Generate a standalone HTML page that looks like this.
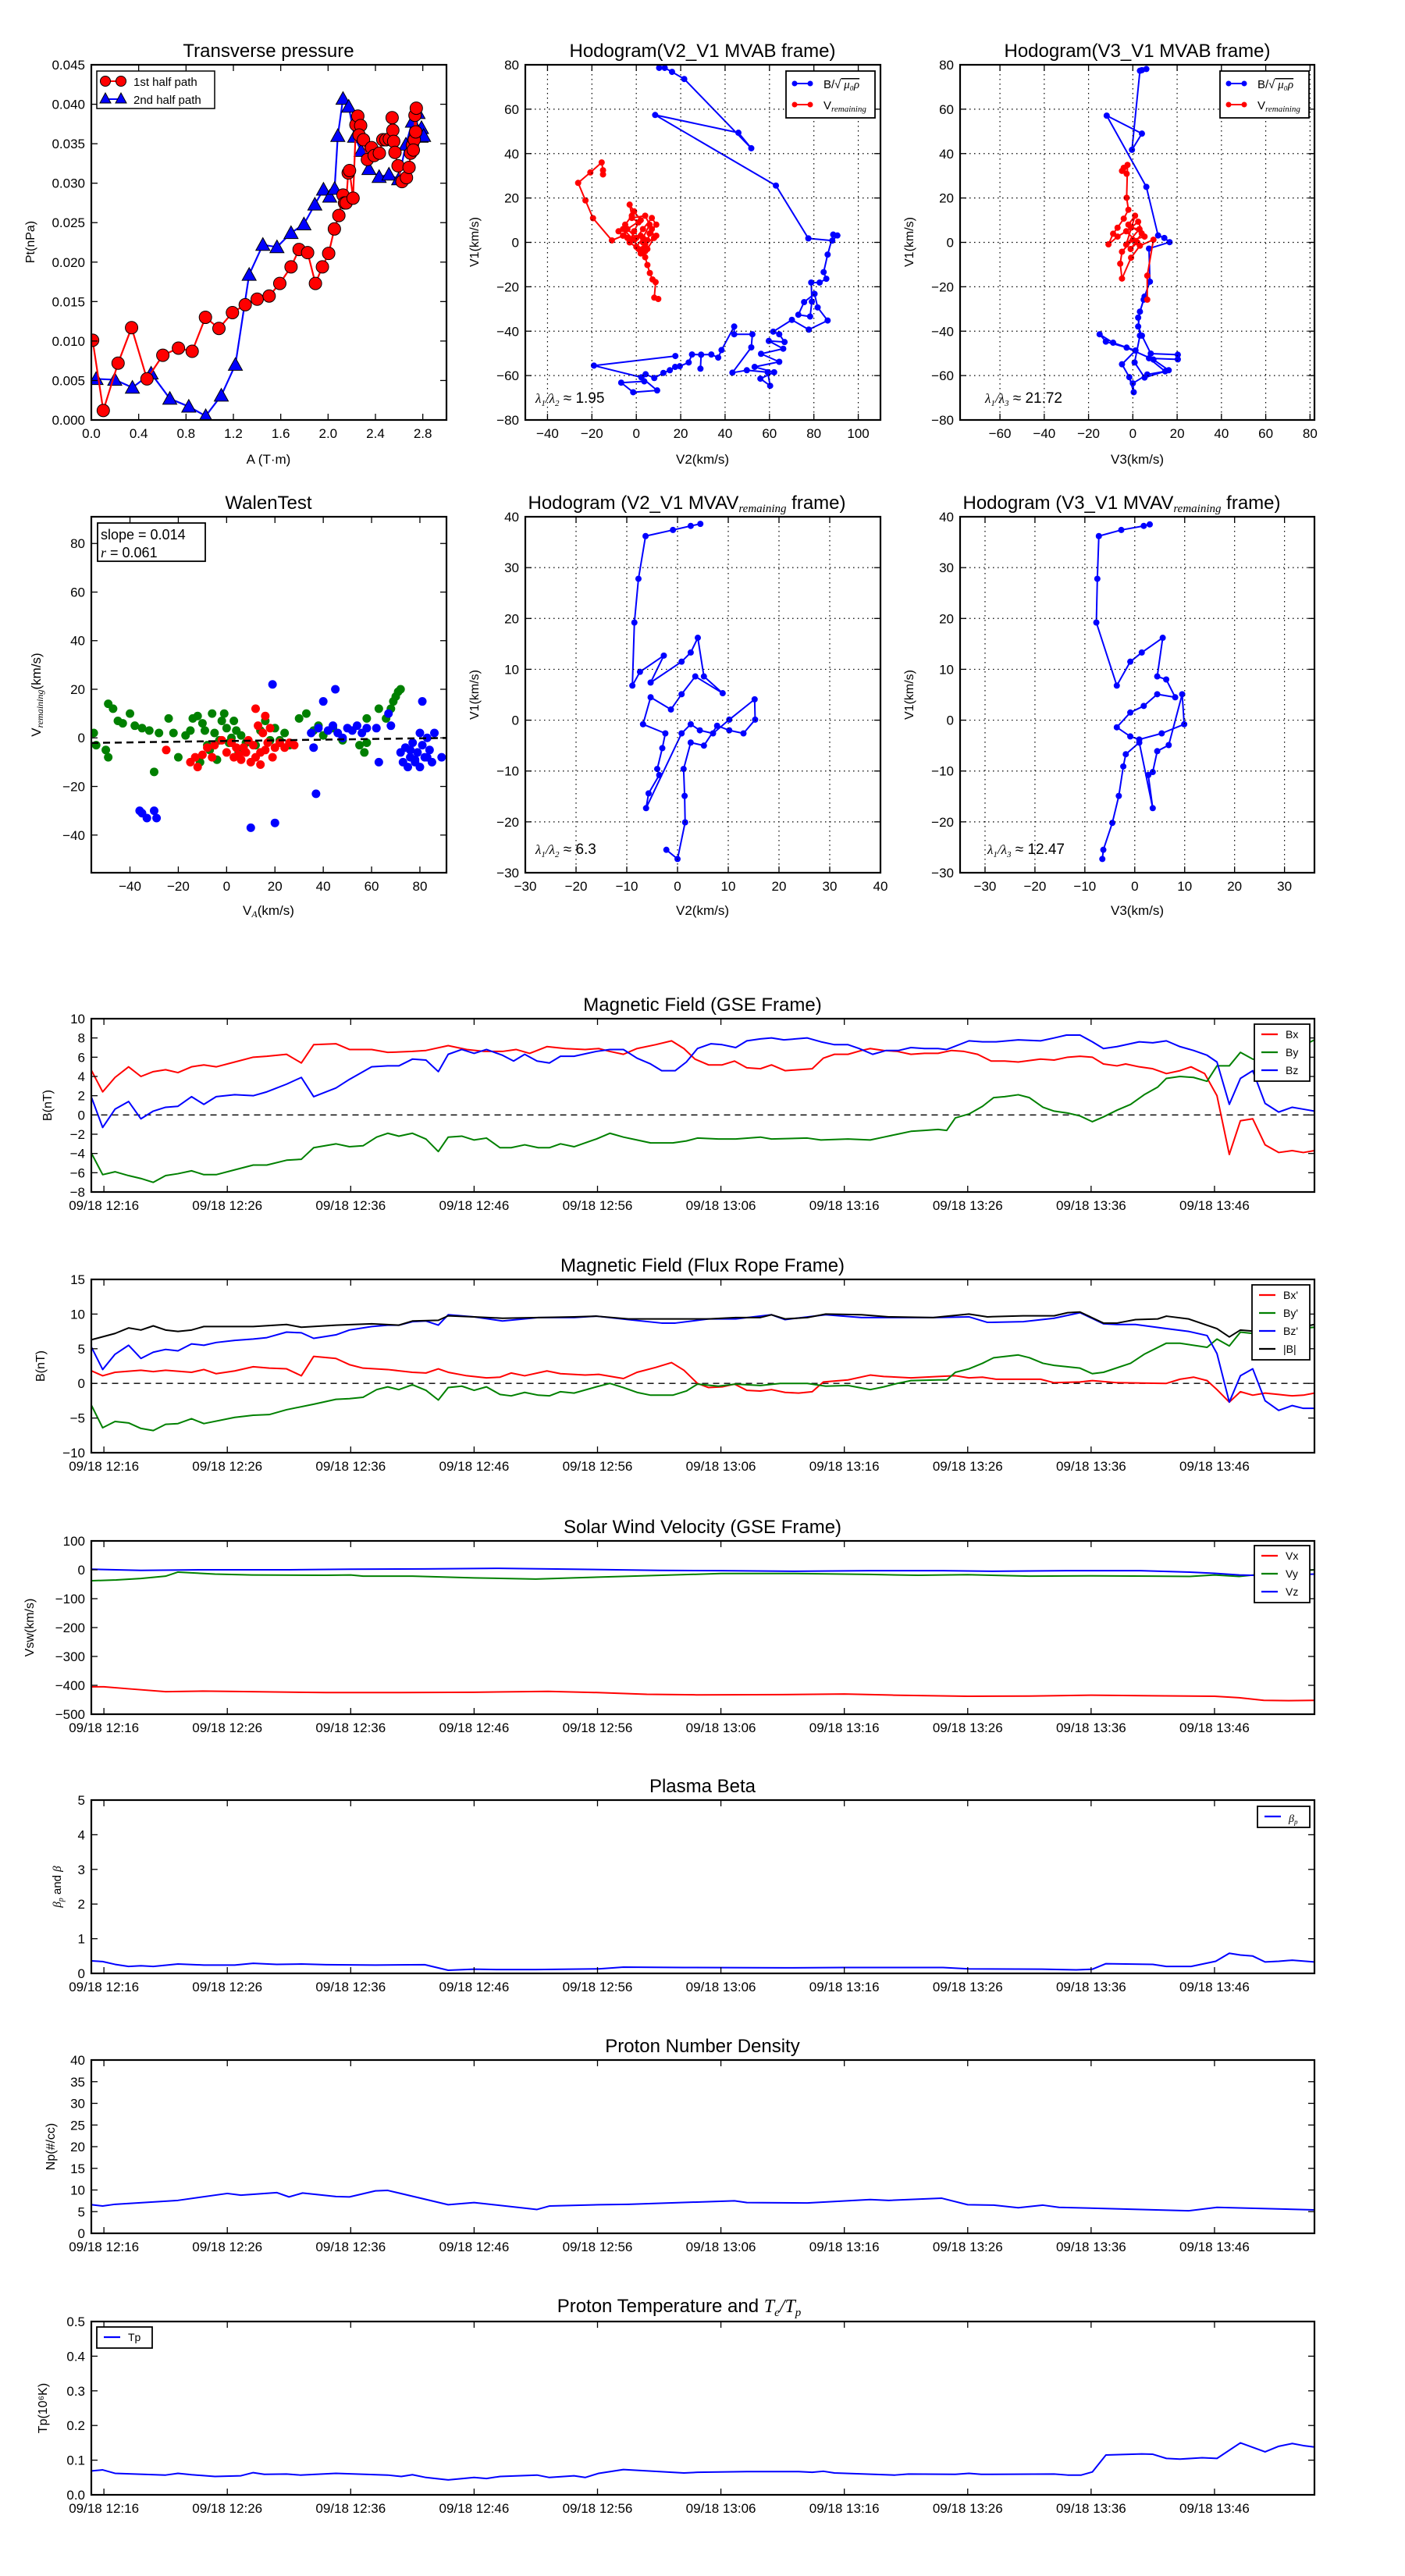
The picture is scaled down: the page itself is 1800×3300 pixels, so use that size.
<!DOCTYPE html>
<html><head><meta charset="utf-8">
<style>
html,body{margin:0;padding:0;background:#fff;}
svg{display:block;font-family:"Liberation Sans",sans-serif;}
</style></head>
<body>
<svg id="fig" width="1800" height="3300" viewBox="0 0 1800 3300" xmlns="http://www.w3.org/2000/svg">
<rect x="0" y="0" width="1800" height="3300" fill="#fff"/>
</svg>
<script>
// ---------- Transverse pressure ----------
const ptRedA=[0.011,0.101,0.226,0.340,0.470,0.604,0.736,0.852,0.964,1.078,1.192,1.300,1.401,1.502,1.592,1.687,1.755,1.827,1.893,1.952,2.005,2.053,2.091,2.126,2.139,2.152,2.170,2.181,2.211,2.235,2.251,2.275,2.262,2.299,2.332,2.367,2.389,2.433,2.462,2.488,2.517,2.541,2.547,2.554,2.565,2.591,2.624,2.662,2.684,2.697,2.712,2.728,2.734,2.745,2.74,2.72];
const ptRedP=[0.0101,0.0012,0.0072,0.0117,0.0052,0.0082,0.0091,0.0087,0.0130,0.0116,0.0136,0.0146,0.0153,0.0157,0.0173,0.0194,0.0216,0.0212,0.0173,0.0194,0.0211,0.0242,0.0259,0.0285,0.0275,0.0275,0.0313,0.0316,0.0281,0.0374,0.0385,0.0373,0.0361,0.0355,0.0330,0.0345,0.0335,0.0338,0.0355,0.0355,0.0356,0.0383,0.0367,0.0353,0.0339,0.0322,0.0302,0.0307,0.0320,0.0338,0.0348,0.0355,0.0386,0.0395,0.0365,0.0342];
const ptBlueA=[0.040,0.198,0.347,0.505,0.663,0.823,0.966,1.098,1.217,1.333,1.449,1.568,1.687,1.796,1.888,1.961,2.014,2.055,2.082,2.126,2.174,2.224,2.279,2.345,2.431,2.514,2.596,2.657,2.712,2.760,2.745,2.789,2.785,2.807];
const ptBlueP=[0.0052,0.0051,0.0041,0.0059,0.0027,0.0017,0.0005,0.0031,0.0070,0.0184,0.0222,0.0219,0.0237,0.0248,0.0273,0.0292,0.0283,0.0293,0.0360,0.0407,0.0397,0.0359,0.0341,0.0318,0.0308,0.0311,0.0305,0.0349,0.0378,0.0389,0.0369,0.0370,0.0359,0.0360];
const ptXTicks=[0,0.4,0.8,1.2,1.6,2.0,2.4,2.8];
const ptYTicks=[0,0.005,0.01,0.015,0.02,0.025,0.03,0.035,0.04,0.045];
// ---------- Hodogram V2_V1 MVAB ----------
const h1BlueX=[10.3,12.8,16.1,21.6,51.8,46.0,8.5,62.9,77.5,88.3,90.6,88.7,86.2,84.4,85.6,82.6,78.8,79.1,78.3,73.0,75.6,80.3,81.7,86.2,77.7,70.1,61.7,64.4,66.8,59.7,66.2,56.2,64.4,53.3,62.1,55.9,60.3,59.2,49.8,43.3,51.8,52.3,44.1,44.1,38.4,36.9,33.8,29.2,28.9,29.2,25.1,23.6,19.6,17.5,15.1,12.2,8.1,4.2,2.3,9.4,-1.4,-6.8,3.6,2.3,-19.1,17.6];
const h1BlueY=[78.6,78.6,76.8,73.6,42.4,49.4,57.4,25.6,1.8,0.8,3.1,3.5,-5.5,-13.4,-16.4,-18.1,-18.1,-26.7,-33.4,-32.6,-26.9,-23.2,-29.3,-35.2,-39.3,-34.9,-40.2,-41.4,-44.9,-44.4,-47.9,-50.2,-53.8,-56.1,-58.5,-61.4,-64.6,-58.5,-57.6,-58.7,-47.3,-41.4,-41.4,-37.9,-48.5,-51.9,-50.5,-50.6,-56.9,-50.6,-50.5,-54.1,-55.8,-56.1,-57.6,-58.8,-61.1,-59.4,-60.8,-66.7,-67.5,-63.2,-62.6,-60.8,-55.5,-51.2];
const h1RedX=[-15,-15,-15.6,-20.7,-26.2,-22.9,-19.5,-11,-6,-8,-5,-2,-3,-1,2,-4,0,3,7,9,6,9,4,1,-3,-1,1,-2,4,6,3,0,2,5,7,8,5,3,2,-4,-6,-1,2,4,3,4,5,6.1,7.3,8.7,8.1,9.9];
const h1RedY=[30.6,32.5,36,31.5,26.8,18.9,10.9,0.9,3,5,8,12,17,14,10,6,2,6,11,8,4,3,-1,-3,0,5,9,11,12,8,2,-2,-4,1,6,2,-3,0,3,2,6,1,-5,-4,-3,-6.7,-10.2,-13.8,-16.7,-17.9,-24.9,-25.5];
// ---------- Hodogram V3_V1 MVAB ----------
const h2BlueX=[4.1,6.1,3.2,-0.4,4.1,-11.8,6.1,11.4,14.2,16.6,7.3,7.7,5.3,3.2,2.4,4.1,8.1,20.3,20.3,7.3,14.6,6.5,0,0.4,-1.6,-4.9,1.2,-8.9,-15,-12.2,-2.8,9.3,16.2,5.3,0.8,3.2,2.4,4.9];
const h2BlueY=[77.6,78.1,77.3,41.7,49.0,57.1,25.0,3.1,2.0,0.1,-2.8,-17.7,-24.4,-31.2,-37.9,-42.0,-50.1,-50.6,-52.7,-52.2,-58.1,-59.5,-63.5,-67.5,-60.7,-54.9,-48.7,-45.2,-41.4,-44.7,-47.4,-52.8,-57.6,-60.9,-54.1,-42,-33.9,-25.8];
const h2RedX=[-4.1,-2.8,-4.9,-2.4,-2.8,-2,-4.1,-6.9,-8.9,-11,-6.9,-3,2,-1,4,-2,1,-3,3,-0.8,2.4,5.3,0,-4.9,-5.7,-4.9,-0.8,3.2,9.3,6.5,6.5];
const h2RedY=[33.6,30.9,32.2,34.9,20.1,14.7,10.7,6.6,3.9,-0.9,2.6,5,0,-3,4,8,12,-1,6,6.6,9.3,2.6,1.2,-4.2,-9.6,-16.3,-6.9,-1.5,1.2,-15,-25.8];
// ---------- Walen test ----------
const wGreenX=[-55,-54,-50,-49,-49,-47,-45,-43,-40,-38,-35,-32,-30,-28,-24,-22,-20,-17,-15,-14,-12,-10,-8,-6,-5,-4,-3,-2,-1,0,1,2,3,4,5,6,8,14,16,18,20,22,24,26,30,33,36,38,40,48,55,57,58,63,66,68,69,70,71,72,58,44,12,-7,-11,-9];
const wGreenY=[2,-3,-5,-8,14,12,7,6,10,5,4,3,-14,2,8,2,-8,1,3,8,9,6,-3,10,2,-9,-1,7,10,4,-2,0,7,3,-6,1,-2,3,7,-1,4,-1,2,-3,8,10,3,5,1,-1,-3,-6,8,12,8,12,15,17,19,20,-2,4,-3,-5,-10,3];
const wRedX=[-25,-15,-13,-12,-10,-8,-5,-2,0,2,3,4,6,7,8,9,10,11,12,12,13,14,15,16,16,17,18,20,22,24,26,28,5,-6,14,19];
const wRedY=[-5,-10,-8,-12,-7,-4,-3,-1,-6,-2,-8,-4,-9,-4,-6,-1,-10,-3,-8,12,5,-11,2,-5,9,-2,4,-4,-2,-4,-2,-3,-7,-8,-6,-8];
const wBlueX=[-36,-35,-33,-30,-29,10,20,19,37,36,35,38,40,42,44,45,46,48,50,52,54,56,58,62,63,67,68,72,73,74,75,76,77,78,79,80,81,82,83,84,85,86,80,81,78,76,83,89];
const wBlueY=[-30,-31,-33,-30,-33,-37,-35,22,-23,-4,2,4,15,3,5,20,2,0,4,3,5,2,4,4,-10,10,5,-6,-10,-4,-12,-8,-2,-9,-6,-12,-3,-8,0,-5,-10,2,2,15,-10,-5,-8,-8];
const walenSlope=[0.014];
const walenIntercept=[-1.3];
const walenTicks=[-40,-20,0,20,40,60,80];
// ---------- Hodogram MVAV remaining ----------
const h3X=[4.5,2.6,-0.9,-6.3,-7.7,-8.5,-8.9,-7.4,-2.7,-5.3,0.8,2.6,4,5.2,8.9,3.5,0.8,-1.3,-5.3,-6.8,-2.4,-3,-4,-3.6,-5.7,-6.2,0.8,2.6,4.4,7,10.2,15.2,15.3,13,10.2,7.8,5.2,2.6,1.2,1.4,1.5,0,-2.2];
const h3Y=[38.6,38.2,37.4,36.2,27.8,19.2,6.8,9.5,12.7,7.4,11.5,13.3,16.2,8.6,5.3,8.6,5.1,2.1,4.5,-0.8,-2.6,-5.5,-9.6,-10.8,-14.4,-17.3,-2.6,-0.8,-2,-2.6,0.1,4.1,0.1,-2.6,-2,-1.1,-5,-4.4,-9.6,-14.9,-20.1,-27.3,-25.5];
const h4X=[3,1.8,-2.7,-7.2,-7.5,-7.7,-3.6,-0.9,1.4,5.6,4.5,6.3,8.1,4.5,1.8,-0.9,-3.6,-0.9,0.9,5.4,9.9,9.5,6.8,4.5,3.6,2.7,3.6,0.9,-1.8,-2.3,-3.2,-4.5,-6.3,-6.5];
const h4Y=[38.5,38.2,37.4,36.2,27.8,19.2,6.8,11.5,13.3,16.2,8.6,8,4.5,5.1,2.8,1.5,-1.4,-3.2,-3.8,-2.6,-0.8,5.1,-4.9,-6.1,-10.2,-10.8,-17.3,-4.4,-6.7,-9.1,-14.9,-20.2,-25.5,-27.3];
const hodoTicks1=[-80,-60,-40,-20,0,20,40,60,80];
const hodoXTicks1=[-40,-20,0,20,40,60,80,100];
const hodoXTicks2=[-60,-40,-20,0,20,40,60,80];
const hodoTicks2=[-30,-20,-10,0,10,20,30,40];
// ---------- Time series (minutes since 09/18 12:16) ----------
const timeTicks=[0,10,20,30,40,50,60,70,80,90];
const timeLabels=["09/18 12:16","09/18 12:26","09/18 12:36","09/18 12:46","09/18 12:56","09/18 13:06","09/18 13:16","09/18 13:26","09/18 13:36","09/18 13:46"];
const bxT=[-1.0,-0.1,0.9,2.0,3.0,4.0,5.0,6.0,7.1,8.1,9.1,10.6,12.1,13.2,14.8,16.0,17.0,18.8,19.9,21.7,23.0,25.0,26.1,27.9,29.4,30.8,32.3,33.4,34.5,35.9,37.4,39.0,40.1,41.0,42.1,43.2,44.7,46.0,47.0,47.9,49.0,50.1,51.1,52.1,53.2,54.1,55.2,56.3,57.4,58.3,59.2,60.3,61.4,62.1,63.2,64.3,65.4,66.5,67.6,68.7,69.7,70.8,71.9,73.0,74.1,75.9,77.0,78.1,79.1,80.1,81.0,82.1,82.8,83.9,85.0,86.1,87.2,88.1,89.2,90.2,91.2,92.1,93.1,94.1,95.2,96.3,97.2,98.1];
const bxV=[4.6,2.4,3.9,5.0,4.0,4.5,4.7,4.4,5.0,5.2,5.0,5.5,6.0,6.1,6.3,5.4,7.3,7.4,6.8,6.8,6.5,6.6,6.7,7.2,6.8,6.6,6.6,6.8,6.4,7.1,6.9,6.8,6.9,6.6,6.3,6.9,7.3,7.7,6.9,5.8,5.2,5.2,5.6,4.9,4.8,5.2,4.6,4.7,4.8,5.9,6.3,6.3,6.7,6.9,6.7,6.6,6.3,6.4,6.4,6.7,6.6,6.3,5.6,5.6,5.5,5.8,5.7,6.0,6.1,6.0,5.3,5.1,5.3,5.0,4.8,4.3,4.6,5.0,4.3,2.0,-4.1,-0.6,-0.4,-3.1,-3.9,-3.7,-3.9,-3.7];
const byT=[-1.0,-0.1,0.9,2.0,3.0,4.0,5.0,6.0,7.1,8.1,9.1,10.6,12.1,13.2,14.8,16.0,17.0,18.8,19.9,21.0,22.1,23.0,23.9,25.0,26.1,27.1,27.9,29.0,30.0,31.0,32.1,33.0,34.1,35.2,36.1,37.0,38.1,39.9,41.0,42.1,43.2,44.3,46.1,47.2,48.1,49.8,51.2,53.2,54.1,57.0,58.1,60.3,62.1,63.2,64.3,65.4,66.5,67.6,68.3,69.0,70.1,71.2,72.1,73.0,74.1,75.0,76.1,77.0,78.1,79.1,80.1,81.0,82.1,83.2,84.3,85.4,86.1,87.2,88.3,89.4,90.2,91.2,92.1,93.1,94.1,95.6,98.1];
const byV=[-4.0,-6.2,-5.9,-6.3,-6.6,-7.0,-6.3,-6.1,-5.8,-6.2,-6.2,-5.7,-5.2,-5.2,-4.7,-4.6,-3.4,-3.0,-3.3,-3.2,-2.3,-1.9,-2.2,-1.9,-2.5,-3.8,-2.3,-2.2,-2.6,-2.4,-3.4,-3.4,-3.1,-3.4,-3.4,-3.0,-3.3,-2.5,-1.9,-2.3,-2.6,-2.9,-2.9,-2.7,-2.4,-2.5,-2.5,-2.3,-2.5,-2.4,-2.6,-2.5,-2.6,-2.3,-2.0,-1.7,-1.6,-1.5,-1.6,-0.3,0.1,0.9,1.8,1.9,2.1,1.8,0.8,0.4,0.2,-0.1,-0.7,-0.2,0.5,1.1,2.1,2.9,3.8,4.0,3.9,3.5,5.1,5.1,6.5,5.8,5.6,6.2,7.8];
const bzT=[-1.0,-0.1,0.9,2.0,3.0,4.0,5.0,6.0,7.1,8.1,9.1,10.6,12.1,13.2,14.8,16.0,17.0,18.8,19.9,21.7,23.0,23.9,25.0,26.1,27.1,27.9,29.0,30.0,31.0,32.3,33.2,34.1,35.1,36.1,37.0,38.1,39.9,41.0,42.1,43.2,44.3,45.2,46.3,47.2,48.1,49.2,50.1,51.2,52.1,53.2,54.1,55.1,57.0,58.1,59.2,60.3,61.2,62.3,63.4,64.4,65.4,66.5,67.6,68.3,70.1,71.2,72.3,74.1,75.9,77.0,78.0,79.1,80.1,81.0,82.1,83.9,85.0,86.1,87.2,88.3,89.4,90.2,91.2,92.1,93.1,94.1,95.2,96.3,97.2,98.1];
const bzV=[1.8,-1.3,0.6,1.4,-0.4,0.4,0.8,0.9,1.9,1.1,1.9,2.1,2.0,2.4,3.2,3.9,1.9,2.8,3.7,5.0,5.1,5.1,5.8,5.7,4.5,6.3,6.8,6.4,6.8,6.2,5.6,6.3,5.6,5.4,6.1,6.1,6.6,6.8,6.8,5.9,5.3,4.6,4.6,5.5,6.9,7.4,7.3,7.0,7.7,7.9,8.0,7.8,8.0,7.6,7.3,7.3,6.9,6.3,6.7,6.7,7.0,6.9,6.9,6.8,7.7,7.6,7.6,7.8,7.7,8.0,8.3,8.3,7.6,6.9,7.1,7.6,7.5,7.7,7.1,6.7,6.2,5.5,1.1,3.8,4.6,1.2,0.3,0.8,0.6,0.4];
const bmT=[-1.0,0.9,2.0,3.0,4.0,5.0,6.0,7.1,8.1,10.6,12.1,14.8,16.0,18.8,21.7,23.9,25.0,27.1,27.9,30.0,32.3,35.2,38.1,39.9,42.5,46.1,49.0,51.2,53.2,54.1,55.2,57.0,58.5,61.4,63.6,67.2,70.1,71.6,74.5,77.0,78.1,79.1,81.0,82.1,83.6,85.4,86.1,87.9,90.2,91.2,92.1,93.4,95.6,98.1];
const bmV=[6.3,7.2,8.0,7.7,8.3,7.7,7.5,7.7,8.2,8.2,8.2,8.5,8.1,8.4,8.6,8.4,9.0,9.1,9.75,9.6,9.4,9.5,9.6,9.7,9.3,9.3,9.3,9.5,9.5,9.9,9.3,9.5,10.0,9.9,9.6,9.5,10.0,9.6,9.75,9.75,10.2,10.3,8.7,8.7,9.2,9.3,9.7,9.3,7.9,6.7,7.7,7.5,7.6,8.5];
const fzT=[-1.0,-0.1,0.9,2.0,3.0,4.0,5.0,6.0,7.1,8.1,9.1,10.6,12.1,13.2,14.8,16.0,17.0,18.8,19.9,21.7,23.0,23.9,25.0,26.1,27.1,27.9,30.0,32.3,35.2,38.1,39.9,42.5,45.2,46.3,49.0,51.2,54.1,55.2,58.5,61.4,63.6,67.2,70.1,71.6,74.5,77.0,79.1,81.0,82.1,83.6,86.1,87.9,89.4,90.2,91.2,92.1,93.1,94.1,95.2,96.3,97.2,98.1];
const fzV=[5.2,2.0,4.2,5.5,3.6,4.5,4.9,4.7,5.7,5.5,5.9,6.2,6.4,6.6,7.4,7.3,6.5,7.0,7.7,8.2,8.4,8.4,8.9,9.0,8.4,9.9,9.6,9.0,9.5,9.5,9.7,9.2,8.7,8.7,9.3,9.3,9.9,9.2,9.9,9.5,9.5,9.5,9.6,8.8,8.9,9.4,10.2,8.6,8.5,8.5,7.9,7.5,6.9,4.3,-2.7,1.1,2.1,-2.5,-3.9,-3.2,-3.6,-3.6];
const fxT=[-1.0,-0.1,0.9,3.0,4.0,5.0,7.1,8.1,9.1,10.6,12.1,13.4,14.8,16.0,17.0,18.8,19.9,21.0,23.0,25.0,26.1,27.1,27.9,29.4,31.0,32.1,33.0,34.1,35.9,37.0,39.0,40.1,42.1,43.2,44.7,46.0,47.0,48.1,49.0,50.1,51.1,52.1,53.2,54.1,55.2,56.3,57.4,58.3,60.3,62.1,63.2,65.4,67.6,69.0,70.1,71.2,72.3,75.9,77.0,79.1,80.1,82.1,86.1,87.2,88.3,89.4,90.2,91.2,92.1,93.1,94.1,95.2,96.3,97.2,98.1];
const fxV=[1.8,1.1,1.6,1.9,1.7,1.9,1.6,2.0,1.4,1.8,2.4,2.2,2.1,1.1,3.9,3.6,2.7,2.2,2.0,1.6,1.5,2.1,1.6,1.1,0.8,0.9,1.5,1.1,1.8,1.4,1.2,1.3,0.7,1.6,2.3,3.0,1.9,0,-0.6,-0.5,-0.1,-1.0,-1.1,-0.9,-1.3,-1.4,-1.2,0.2,0.5,1.2,1.0,0.8,1.0,1.1,0.8,0.9,0.6,0.6,0.1,0.2,0.4,0.1,0,0.6,0.9,0.4,-0.9,-2.7,-1.2,-1.7,-1.4,-1.6,-1.8,-1.7,-1.4];
const fyT=[-1.0,-0.1,0.9,2.0,3.0,4.0,5.0,6.0,7.1,8.1,10.6,12.1,13.4,14.8,17.0,18.8,19.9,21.0,22.1,23.0,23.9,25.0,26.1,27.1,27.9,29.0,30.0,31.0,32.1,33.0,34.1,35.2,36.1,37.0,38.1,39.9,41.0,42.1,43.2,44.3,46.1,47.2,48.1,49.8,51.2,53.2,54.8,57.0,58.5,60.3,62.1,63.2,64.3,65.4,67.6,68.3,69.0,70.1,71.2,72.1,74.1,75.0,76.1,77.0,79.1,80.1,81.0,83.2,84.3,86.1,87.2,89.4,90.2,91.2,92.1,93.1,98.1];
const fyV=[-3.2,-6.4,-5.5,-5.7,-6.5,-6.8,-5.9,-5.8,-5.1,-5.8,-4.9,-4.6,-4.5,-3.8,-3.0,-2.3,-2.2,-2.0,-0.9,-0.5,-0.9,-0.2,-1.0,-2.4,-0.6,-0.4,-1.0,-0.5,-1.6,-1.8,-1.3,-1.7,-1.8,-1.2,-1.4,-0.5,0,-0.6,-1.3,-1.7,-1.7,-1.1,-0.1,-0.4,-0.1,-0.3,0,0,-0.4,-0.3,-0.9,-0.5,0,0.4,0.5,0.5,1.6,2.1,2.9,3.7,4.1,3.7,2.9,2.6,2.2,1.4,1.6,2.9,4.2,5.8,5.8,5.2,6.4,5.4,7.4,7.2,8.1];
const vxT=[-1,0,2,5,8,12,18,24,30,36,40,44,48,55,60,64,70,75,80,85,90,92,94,96,98.1];
const vxV=[-405,-405,-412,-422,-420,-422,-425,-425,-424,-421,-425,-431,-433,-432,-430,-434,-438,-437,-434,-436,-438,-443,-452,-453,-452];
const vyT=[-1,1,3,5,6,9,12,18,20,21,25,30,35,38,42,46,50,56,62,66,70,75,80,85,88,90,92,95,98.1];
const vyV=[-38,-35,-30,-22,-8,-15,-18,-19,-18,-22,-22,-28,-32,-28,-23,-18,-13,-13,-16,-19,-17,-22,-21,-22,-23,-18,-23,-10,0];
const vzT=[-1,3,8,15,20,26,32,38,45,50,56,62,68,72,78,84,88,90,92,94,96,98.1];
const vzV=[2,-2,0,0,2,3,5,2,-2,-3,-5,-3,-3,-5,-3,-3,-8,-12,-18,-20,-18,-15];
const betaT=[-1.0,-0.1,0.9,2.0,3.0,4.0,6.0,8.1,10.6,12.1,14.0,16.0,18.0,22.0,26.0,27.9,30.0,32.0,35.0,40.1,42.1,47.0,55.1,60.0,68.0,70.1,76.0,78.8,80.1,81.2,85.0,86.1,88.1,90.1,91.2,92.1,93.1,94.1,95.2,96.3,98.1];
const betaV=[0.36,0.34,0.26,0.2,0.22,0.2,0.27,0.24,0.24,0.29,0.26,0.27,0.25,0.24,0.25,0.09,0.12,0.11,0.11,0.13,0.18,0.17,0.16,0.17,0.17,0.13,0.12,0.1,0.12,0.28,0.26,0.2,0.2,0.35,0.58,0.53,0.5,0.33,0.35,0.38,0.33];
const npT=[-1.0,-0.1,0.9,6.0,10.0,11.1,14.0,15.0,16.1,18.8,19.9,22.0,23.0,27.9,30.0,35.1,36.1,40.1,42.5,51.1,52.1,57.0,62.1,63.6,67.9,70.0,72.1,74.1,76.1,77.4,87.9,90.2,98.1];
const npV=[6.6,6.3,6.7,7.6,9.2,8.8,9.4,8.4,9.3,8.5,8.4,9.8,9.9,6.6,7.1,5.5,6.3,6.6,6.7,7.5,7.1,7.0,7.8,7.6,8.1,6.6,6.5,5.9,6.5,6.0,5.2,6.0,5.4];
const tpT=[-1.0,-0.1,0.9,5.0,6.0,7.1,9.0,11.1,12.1,13.0,14.8,15.9,18.8,23.0,24.1,25.0,26.1,27.9,30.0,31.0,32.1,35.1,36.1,38.1,39.0,40.1,42.1,47.0,48.1,52.1,56.3,57.4,58.3,59.2,64.1,65.2,69.0,70.1,71.1,77.0,78.1,79.2,80.1,81.2,84.1,85.0,86.1,87.2,89.0,90.2,92.1,94.1,95.2,96.3,97.2,98.1];
const tpV=[0.069,0.072,0.062,0.057,0.062,0.058,0.053,0.055,0.064,0.059,0.06,0.057,0.062,0.057,0.053,0.058,0.05,0.043,0.05,0.047,0.053,0.057,0.05,0.055,0.05,0.062,0.073,0.063,0.065,0.067,0.067,0.065,0.068,0.063,0.057,0.06,0.059,0.062,0.059,0.06,0.057,0.057,0.066,0.115,0.118,0.117,0.105,0.103,0.107,0.105,0.15,0.124,0.14,0.148,0.142,0.138];

const NS='http://www.w3.org/2000/svg';
const svg=document.getElementById('fig');
function mk(tag,attrs,parent){const e=document.createElementNS(NS,tag);for(const k in attrs)e.setAttribute(k,attrs[k]);(parent||svg).appendChild(e);return e;}
function txt(str,x,y,attrs,parent){const t=mk('text',Object.assign({x:x,y:y,'font-size':17,fill:'#000'},attrs||{}),parent);t.textContent=str;return t;}
function makeAxes(box,xd,yd){return {box:box,sx:v=>box.x+(v-xd[0])/(xd[1]-xd[0])*box.w,sy:v=>box.y+box.h-(v-yd[0])/(yd[1]-yd[0])*box.h};}
let clipN=0;
function panel(ax,name){
  const g=mk('g',{});
  
  
  const id='clip'+(clipN++);
  const cp=mk('clipPath',{id:id},g);
  mk('rect',{x:ax.box.x,y:ax.box.y,width:ax.box.w,height:ax.box.h},cp);
  const dg=mk('g',{'clip-path':'url(#'+id+')'},g);
  
  
  return {g:g,dg:dg};
}
function xTicks(ax,g,vals,labels,grid){
  const b=ax.box;
  vals.forEach((v,i)=>{const x=ax.sx(v);
    if(grid&&x>b.x+1&&x<b.x+b.w-1){const gl=mk('line',{x1:x,x2:x,y1:b.y,y2:b.y+b.h,stroke:'#000','stroke-width':1.2,'stroke-dasharray':'1.5,4.5'},g);
      }
    mk('line',{x1:x,x2:x,y1:b.y+b.h,y2:b.y+b.h-8,stroke:'#000','stroke-width':1.3},g);
    mk('line',{x1:x,x2:x,y1:b.y,y2:b.y+8,stroke:'#000','stroke-width':1.3},g);
    const t=txt(labels[i],x,b.y+b.h+23,{'text-anchor':'middle'},g);
    
  });
}
function yTicks(ax,g,vals,labels,grid){
  const b=ax.box;
  vals.forEach((v,i)=>{const y=ax.sy(v);
    if(grid&&y>b.y+1&&y<b.y+b.h-1){const gl=mk('line',{y1:y,y2:y,x1:b.x,x2:b.x+b.w,stroke:'#000','stroke-width':1.2,'stroke-dasharray':'1.5,4.5'},g);
      }
    mk('line',{y1:y,y2:y,x1:b.x,x2:b.x+8,stroke:'#000','stroke-width':1.3},g);
    mk('line',{y1:y,y2:y,x1:b.x+b.w,x2:b.x+b.w-8,stroke:'#000','stroke-width':1.3},g);
    const t=txt(labels[i],b.x-8,y+6,{'text-anchor':'end'},g);
    
  });
}
function frame(ax,g){const b=ax.box;const r=mk('rect',{x:b.x,y:b.y,width:b.w,height:b.h,fill:'none',stroke:'#000','stroke-width':2.2},g);
  }
function title(str,x,y,g){const t=txt(str,x,y,{'text-anchor':'middle','font-size':24},g);return t;}
function ylabel(str,x,y,g,size){const t=txt(str,x,y,{'text-anchor':'middle','font-size':size||17,transform:'rotate(-90 '+x+' '+y+')'},g);return t;}
function xlabel(str,x,y,g){const t=txt(str,x,y,{'text-anchor':'middle','font-size':17},g);return t;}
function line(ax,g,xs,ys,color,name,w){
  const n=Math.min(xs.length,ys.length);let d='';
  for(let i=0;i<n;i++)d+=(i?'L':'M')+ax.sx(xs[i]).toFixed(2)+','+ax.sy(ys[i]).toFixed(2);
  const p=mk('path',{d:d,fill:'none',stroke:color,'stroke-width':w||2,'stroke-linejoin':'round'},g);
  
  
  return p;
}
function dots(ax,g,xs,ys,color,r,name,strokeC){
  const n=Math.min(xs.length,ys.length);
  for(let i=0;i<n;i++){const c=mk('circle',{cx:ax.sx(xs[i]),cy:ax.sy(ys[i]),r:r,fill:color,stroke:strokeC||'none','stroke-width':strokeC?1:0},g);
    }
}
function tris(ax,g,xs,ys,color,s,name){
  const n=Math.min(xs.length,ys.length);
  for(let i=0;i<n;i++){const x=ax.sx(xs[i]),y=ax.sy(ys[i]);
    const p=mk('polygon',{points:(x)+','+(y-s)+' '+(x-s)+','+(y+s*0.8)+' '+(x+s)+','+(y+s*0.8),fill:color,stroke:'#000','stroke-width':1},g);
    }
}
function fmt(v,d){return v<0?'\u2212'+Math.abs(v).toFixed(d):v.toFixed(d);}

// ===== Panel A: Transverse pressure =====
(function(){
  const ax=makeAxes({x:117,y:83,w:455,h:455},[0,3],[0,0.045]);
  const P=panel(ax,'transverse-pressure-chart');
  line(ax,P.dg,ptBlueA,ptBlueP,'#0000ff','second-half-path-line',2.2);
  tris(ax,P.dg,ptBlueA,ptBlueP,'#0000ff',9,'second-half-marker');
  line(ax,P.dg,ptRedA,ptRedP,'#ff0000','first-half-path-line',2.2);
  dots(ax,P.dg,ptRedA,ptRedP,'#ff0000',8,'first-half-marker','#000');
  frame(ax,P.g);
  xTicks(ax,P.g,ptXTicks,ptXTicks.map(v=>v.toFixed(1)),false);
  yTicks(ax,P.g,ptYTicks,ptYTicks.map(v=>v.toFixed(3)),false);
  title('Transverse pressure',344,73,P.g);
  ylabel('Pt(nPa)',44,310,P.g,16);
  xlabel('A (T\u00b7m)',344,594,P.g);
  const lg=mk('g',{},P.g);
  
  
  mk('rect',{x:124,y:91,width:151,height:48,fill:'#fff',stroke:'#000','stroke-width':1.5},lg);
  mk('line',{x1:135,x2:155,y1:104,y2:104,stroke:'#ff0000','stroke-width':2},lg);
  mk('circle',{cx:135,cy:104,r:6.5,fill:'#ff0000',stroke:'#000'},lg);
  mk('circle',{cx:155,cy:104,r:6.5,fill:'#ff0000',stroke:'#000'},lg);
  txt('1st half path',171,110,{'font-size':15},lg);
  mk('line',{x1:135,x2:155,y1:127,y2:127,stroke:'#0000ff','stroke-width':2},lg);
  mk('polygon',{points:'135,119 128,132 142,132',fill:'#0000ff',stroke:'#000'},lg);
  mk('polygon',{points:'155,119 148,132 162,132',fill:'#0000ff',stroke:'#000'},lg);
  txt('2nd half path',171,133,{'font-size':15},lg);
})();

function hodoLegend(g,x,y){
  const lg=mk('g',{},g);
  
  
  mk('rect',{x:x,y:y,width:114,height:60,fill:'#fff',stroke:'#000','stroke-width':1.8},lg);
  mk('line',{x1:x+11,x2:x+31,y1:y+16,y2:y+16,stroke:'#0000ff','stroke-width':2},lg);
  mk('circle',{cx:x+11,cy:y+16,r:3.5,fill:'#0000ff'},lg);mk('circle',{cx:x+31,cy:y+16,r:3.5,fill:'#0000ff'},lg);
  const t1=txt('B/\u221a',x+48,y+22,{'font-size':15},lg);
  const s1=mk('tspan',{'font-style':'italic','font-family':'"Liberation Serif",serif','text-decoration':'overline'},t1);s1.textContent=' \u03bc\u2080\u03c1';
  mk('line',{x1:x+11,x2:x+31,y1:y+43,y2:y+43,stroke:'#ff0000','stroke-width':2},lg);
  mk('circle',{cx:x+11,cy:y+43,r:3.5,fill:'#ff0000'},lg);mk('circle',{cx:x+31,cy:y+43,r:3.5,fill:'#ff0000'},lg);
  const t2=txt('V',x+48,y+49,{'font-size':15},lg);
  const s2=mk('tspan',{'font-style':'italic','font-family':'"Liberation Serif",serif','font-size':11,dy:3},t2);s2.textContent='remaining';
}
function ratioText(g,x,y,a,b,val){
  const t=txt('\u03bb',x,y,{'font-size':17,'font-family':'"Liberation Serif",serif','font-style':'italic'},g);
  
  const s=mk('tspan',{'font-size':11,dy:4},t);s.textContent=a;
  const s2=mk('tspan',{dy:-4},t);s2.textContent='/\u03bb';
  const s3=mk('tspan',{'font-size':11,dy:4},t);s3.textContent=b;
  const s4=mk('tspan',{dy:-4,'font-style':'normal','font-family':'"Liberation Sans",sans-serif','font-size':19},t);s4.textContent=' \u2248 '+val;
}

// ===== Hodogram V2_V1 MVAB =====
(function(){
  const ax=makeAxes({x:673,y:83,w:455,h:455},[-50,110],[-80,80]);
  const P=panel(ax,'hodogram-v2-v1-mvab');
  xTicks(ax,P.g,hodoXTicks1,hodoXTicks1.map(v=>fmt(v,0)),true);
  yTicks(ax,P.g,hodoTicks1,hodoTicks1.map(v=>fmt(v,0)),true);
  line(ax,P.dg,h1BlueX,h1BlueY,'#0000ff','b-alfven-hodogram-line',2);
  dots(ax,P.dg,h1BlueX,h1BlueY,'#0000ff',4,'b-alfven-point');
  line(ax,P.dg,h1RedX,h1RedY,'#ff0000','v-remaining-hodogram-line',2);
  dots(ax,P.dg,h1RedX,h1RedY,'#ff0000',4,'v-remaining-point');
  frame(ax,P.g);
  title('Hodogram(V2_V1 MVAB frame)',900,73,P.g);
  ylabel('V1(km/s)',613,310,P.g,16);
  xlabel('V2(km/s)',900,594,P.g);
  hodoLegend(P.g,1007,91);
  ratioText(P.g,686,516,'1','2','1.95');
})();
// ===== Hodogram V3_V1 MVAB =====
(function(){
  const ax=makeAxes({x:1230,y:83,w:454,h:455},[-78,82],[-80,80]);
  const P=panel(ax,'hodogram-v3-v1-mvab');
  xTicks(ax,P.g,hodoXTicks2,hodoXTicks2.map(v=>fmt(v,0)),true);
  yTicks(ax,P.g,hodoTicks1,hodoTicks1.map(v=>fmt(v,0)),true);
  line(ax,P.dg,h2BlueX,h2BlueY,'#0000ff','b-alfven-hodogram-line',2);
  dots(ax,P.dg,h2BlueX,h2BlueY,'#0000ff',4,'b-alfven-point');
  line(ax,P.dg,h2RedX,h2RedY,'#ff0000','v-remaining-hodogram-line',2);
  dots(ax,P.dg,h2RedX,h2RedY,'#ff0000',4,'v-remaining-point');
  frame(ax,P.g);
  title('Hodogram(V3_V1 MVAB frame)',1457,73,P.g);
  ylabel('V1(km/s)',1170,310,P.g,16);
  xlabel('V3(km/s)',1457,594,P.g);
  hodoLegend(P.g,1563,91);
  ratioText(P.g,1262,516,'1','3','21.72');
})();
// ===== Walen test =====
(function(){
  const ax=makeAxes({x:117,y:662,w:455,h:456},[-56,91],[-55.5,91]);
  const P=panel(ax,'walen-test-chart');
  dots(ax,P.dg,wGreenX,wGreenY,'#008000',5.5,'walen-green-point');
  dots(ax,P.dg,wRedX,wRedY,'#ff0000',5.5,'walen-red-point');
  dots(ax,P.dg,wBlueX,wBlueY,'#0000ff',5.5,'walen-blue-point');
  const fx=[-56,91];
  const fy=fx.map(v=>walenSlope[0]*v+walenIntercept[0]);
  const fl=line(ax,P.dg,fx,fy,'#000','walen-fit-line',2.5);
  fl.setAttribute('stroke-dasharray','9,6');
  frame(ax,P.g);
  xTicks(ax,P.g,walenTicks,walenTicks.map(v=>fmt(v,0)),false);
  yTicks(ax,P.g,walenTicks,walenTicks.map(v=>fmt(v,0)),false);
  title('WalenTest',344,652,P.g);
  const yl=ylabel('V',52,890,P.g,17);
  const ys=mk('tspan',{'font-style':'italic','font-family':'"Liberation Serif",serif','font-size':12,dy:3},yl);ys.textContent='remaining';
  const ys2=mk('tspan',{dy:-3},yl);ys2.textContent='(km/s)';
  const xl=xlabel('V',344,1172,P.g);
  const xs=mk('tspan',{'font-style':'italic','font-family':'"Liberation Serif",serif','font-size':12,dy:3},xl);xs.textContent='A';
  const xs2=mk('tspan',{dy:-3},xl);xs2.textContent='(km/s)';
  const bx=mk('g',{},P.g);
  
  
  mk('rect',{x:125,y:670,width:138,height:49,fill:'#fff',stroke:'#000','stroke-width':1.8},bx);
  txt('slope = 0.014',129,691,{'font-size':18},bx);
  const rt=txt('r',129,714,{'font-size':18,'font-style':'italic','font-family':'"Liberation Serif",serif'},bx);
  const rs=mk('tspan',{'font-style':'normal','font-family':'"Liberation Sans",sans-serif'},rt);rs.textContent=' = 0.061';
})();
// ===== Hodogram MVAV remaining (V2) =====
(function(){
  const ax=makeAxes({x:673,y:662,w:455,h:456},[-30,40],[-30,40]);
  const P=panel(ax,'hodogram-v2-v1-mvav');
  xTicks(ax,P.g,hodoTicks2,hodoTicks2.map(v=>fmt(v,0)),true);
  yTicks(ax,P.g,hodoTicks2,hodoTicks2.map(v=>fmt(v,0)),true);
  line(ax,P.dg,h3X,h3Y,'#0000ff','hodogram-line',2);
  dots(ax,P.dg,h3X,h3Y,'#0000ff',4,'hodogram-point');
  frame(ax,P.g);
  const t=title('Hodogram (V2_V1 MVAV',880,652,P.g);
  const s=mk('tspan',{'font-size':15,'font-style':'italic','font-family':'"Liberation Serif",serif',dy:4},t);s.textContent='remaining';
  const s2=mk('tspan',{dy:-4},t);s2.textContent=' frame)';
  ylabel('V1(km/s)',613,890,P.g,16);
  xlabel('V2(km/s)',900,1172,P.g);
  ratioText(P.g,686,1094,'1','2','6.3');
})();
// ===== Hodogram MVAV remaining (V3) =====
(function(){
  const ax=makeAxes({x:1230,y:662,w:454,h:456},[-35,36],[-30,40]);
  const P=panel(ax,'hodogram-v3-v1-mvav');
  xTicks(ax,P.g,[-30,-20,-10,0,10,20,30],[-30,-20,-10,0,10,20,30].map(v=>fmt(v,0)),true);
  yTicks(ax,P.g,hodoTicks2,hodoTicks2.map(v=>fmt(v,0)),true);
  line(ax,P.dg,h4X,h4Y,'#0000ff','hodogram-line',2);
  dots(ax,P.dg,h4X,h4Y,'#0000ff',4,'hodogram-point');
  frame(ax,P.g);
  const t=title('Hodogram (V3_V1 MVAV',1437,652,P.g);
  const s=mk('tspan',{'font-size':15,'font-style':'italic','font-family':'"Liberation Serif",serif',dy:4},t);s.textContent='remaining';
  const s2=mk('tspan',{dy:-4},t);s2.textContent=' frame)';
  ylabel('V1(km/s)',1170,890,P.g,16);
  xlabel('V3(km/s)',1457,1172,P.g);
  ratioText(P.g,1265,1094,'1','3','12.47');
})();

// ===== Time-series panels =====
const TX=[-1.02,98.1];
function tsLegend(g,x,y,w,entries){
  const lg=mk('g',{},g);
  
  
  mk('rect',{x:x,y:y,width:w,height:entries.length*23+4,fill:'#fff',stroke:'#000','stroke-width':1.8},lg);
  entries.forEach((e,i)=>{const yy=y+13+i*23;
    mk('line',{x1:x+9,x2:x+30,y1:yy,y2:yy,stroke:e[1],'stroke-width':2.2},lg);
    const t=txt(e[0],x+40,yy+5,{'font-size':14},lg);
    
  });
  return lg;
}
function tsPanel(name,top,yd,yticks,ylabels,ttl,yl,ylx){
  const ax=makeAxes({x:117,y:top,w:1567,h:222},TX,yd);
  const P=panel(ax,name);
  xTicks(ax,P.g,timeTicks,timeLabels,false);
  yTicks(ax,P.g,yticks,ylabels,false);
  title(ttl,900,top-10,P.g);
  ylabel(yl,ylx,top+111,P.g,16);
  return {ax:ax,P:P};
}
(function(){
  const yt=[-8,-6,-4,-2,0,2,4,6,8,10];
  const r=tsPanel('magnetic-field-gse-chart',1305,[-8,10],yt,yt.map(v=>fmt(v,0)),'Magnetic Field (GSE Frame)','B(nT)',66);
  const z=line(r.ax,r.P.dg,[-2,100],[0,0],'#000','zero-line',1.3);z.setAttribute('stroke-dasharray','8,6');
  line(r.ax,r.P.dg,bxT,bxV,'#ff0000','bx-line');
  line(r.ax,r.P.dg,byT,byV,'#008000','by-line');
  line(r.ax,r.P.dg,bzT,bzV,'#0000ff','bz-line');
  frame(r.ax,r.P.g);
  tsLegend(r.P.g,1607,1312,71,[['Bx','#ff0000'],['By','#008000'],['Bz','#0000ff']]);
})();
(function(){
  const yt=[-10,-5,0,5,10,15];
  const r=tsPanel('magnetic-field-flux-rope-chart',1639,[-10,15],yt,yt.map(v=>fmt(v,0)),'Magnetic Field (Flux Rope Frame)','B(nT)',57);
  const z=line(r.ax,r.P.dg,[-2,100],[0,0],'#000','zero-line',1.3);z.setAttribute('stroke-dasharray','8,6');
  line(r.ax,r.P.dg,fxT,fxV,'#ff0000','bx-prime-line');
  line(r.ax,r.P.dg,fyT,fyV,'#008000','by-prime-line');
  line(r.ax,r.P.dg,fzT,fzV,'#0000ff','bz-prime-line');
  line(r.ax,r.P.dg,bmT,bmV,'#000000','b-magnitude-line');
  frame(r.ax,r.P.g);
  tsLegend(r.P.g,1604,1646,74,[["Bx'",'#ff0000'],["By'",'#008000'],["Bz'",'#0000ff'],['|B|','#000']]);
})();
(function(){
  const yt=[-500,-400,-300,-200,-100,0,100];
  const r=tsPanel('solar-wind-velocity-chart',1974,[-500,100],yt,yt.map(v=>fmt(v,0)),'Solar Wind Velocity (GSE Frame)','Vsw(km/s)',43);
  line(r.ax,r.P.dg,vxT,vxV,'#ff0000','vx-line');
  line(r.ax,r.P.dg,vyT,vyV,'#008000','vy-line');
  line(r.ax,r.P.dg,vzT,vzV,'#0000ff','vz-line');
  frame(r.ax,r.P.g);
  tsLegend(r.P.g,1607,1980,71,[['Vx','#ff0000'],['Vy','#008000'],['Vz','#0000ff']]);
})();
(function(){
  const yt=[0,1,2,3,4,5];
  const r=tsPanel('plasma-beta-chart',2306,[0,5],yt,yt.map(v=>fmt(v,0)),'Plasma Beta','',78);
  line(r.ax,r.P.dg,betaT,betaV,'#0000ff','beta-p-line');
  frame(r.ax,r.P.g);
  const yl=txt('\u03b2',78,2417,{'text-anchor':'middle','font-size':15,'font-family':'"Liberation Serif",serif','font-style':'italic',transform:'rotate(-90 78 2417)'},r.P.g);
  
  const a=mk('tspan',{'font-size':10,dy:3},yl);a.textContent='p';
  const b=mk('tspan',{dy:-3,'font-style':'normal','font-family':'"Liberation Sans",sans-serif'},yl);b.textContent=' and ';
  const c=mk('tspan',{},yl);c.textContent='\u03b2';
  const lg=tsLegend(r.P.g,1611,2314,67,[['',' #0000ff']]);
  const lt=txt('\u03b2',1651,2334,{'font-size':14,'font-style':'italic','font-family':'"Liberation Serif",serif'},lg);
  const lp=mk('tspan',{'font-size':9,dy:3},lt);lp.textContent='p';
  lg.querySelector('line').setAttribute('stroke','#0000ff');
})();
(function(){
  const yt=[0,5,10,15,20,25,30,35,40];
  const r=tsPanel('proton-density-chart',2639,[0,40],yt,yt.map(v=>fmt(v,0)),'Proton Number Density','Np(#/cc)',70);
  line(r.ax,r.P.dg,npT,npV,'#0000ff','np-line');
  frame(r.ax,r.P.g);
})();
(function(){
  const yt=[0,0.1,0.2,0.3,0.4,0.5];
  const r=tsPanel('proton-temperature-chart',2974,[0,0.5],yt,yt.map(v=>fmt(v,1)),'','Tp(10\u2076K)',60);
  line(r.ax,r.P.dg,tpT,tpV,'#0000ff','tp-line');
  frame(r.ax,r.P.g);
  const t=title('Proton Temperature and ',870,2962,r.P.g);
  const a=mk('tspan',{'font-style':'italic','font-family':'"Liberation Serif",serif'},t);a.textContent='T';
  const b=mk('tspan',{'font-style':'italic','font-family':'"Liberation Serif",serif','font-size':15,dy:5},t);b.textContent='e';
  const c=mk('tspan',{'font-style':'italic','font-family':'"Liberation Serif",serif',dy:-5},t);c.textContent='/T';
  const d=mk('tspan',{'font-style':'italic','font-family':'"Liberation Serif",serif','font-size':15,dy:5},t);d.textContent='p';
  tsLegend(r.P.g,124,2981,71,[['Tp','#0000ff']]);
})();
</script>
</body></html>
